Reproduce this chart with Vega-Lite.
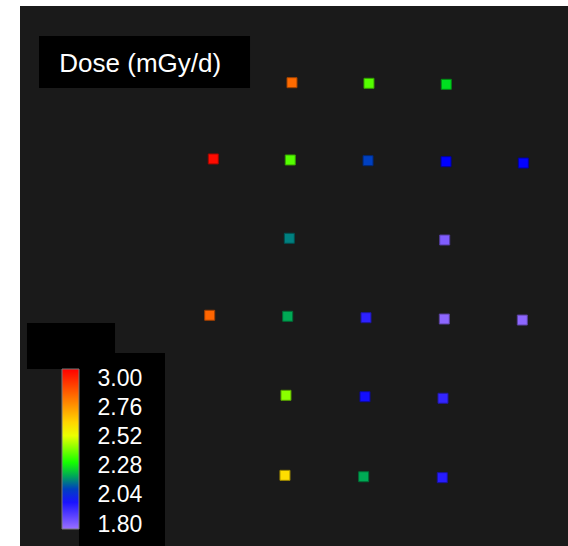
{
  "$schema": "https://vega.github.io/schema/vega-lite/v6.json",
  "width": 548,
  "height": 540,
  "autosize": {"type": "none"},
  "padding": {"left": 20, "top": 6, "right": 0, "bottom": 0},
  "background": "white",
  "config": {
    "view": {"fill": "#1a1a1a", "stroke": null},
    "legend": {"padding": 0, "offset": 0, "labelColor": "white", "labelFont": "Liberation Sans", "labelFontSize": 23, "title": null}
  },
  "datasets": {
    "panels": [
      {"name": "title box", "x": 0.244, "x2": 2.949, "y": 6.538, "y2": 5.872},
      {"name": "colorbar title box", "x": 0.0897, "x2": 1.218, "y": 2.859, "y2": 2.269},
      {"name": "colorbar label box", "x": 0.756, "x2": 1.859, "y": 2.474, "y2": 0}
    ],
    "titles": [
      {"label": "Dose (mGy/d)", "x": 0.504, "y": 6.081}
    ],
    "doses": [
      {"x": 3.487, "y": 5.940, "dose": 2.80},
      {"x": 4.474, "y": 5.932, "dose": 2.36},
      {"x": 5.465, "y": 5.919, "dose": 2.25},
      {"x": 2.478, "y": 4.962, "dose": 2.98},
      {"x": 3.465, "y": 4.949, "dose": 2.36},
      {"x": 4.462, "y": 4.940, "dose": 2.10},
      {"x": 5.462, "y": 4.927, "dose": 2.04},
      {"x": 6.453, "y": 4.910, "dose": 2.035},
      {"x": 3.453, "y": 3.945, "dose": 2.16},
      {"x": 5.445, "y": 3.923, "dose": 1.84},
      {"x": 2.432, "y": 2.958, "dose": 2.81},
      {"x": 3.432, "y": 2.945, "dose": 2.20},
      {"x": 4.436, "y": 2.927, "dose": 1.97},
      {"x": 5.440, "y": 2.910, "dose": 1.82},
      {"x": 6.440, "y": 2.897, "dose": 1.82},
      {"x": 3.410, "y": 1.932, "dose": 2.41},
      {"x": 4.423, "y": 1.914, "dose": 2.01},
      {"x": 5.423, "y": 1.894, "dose": 1.96},
      {"x": 3.397, "y": 0.906, "dose": 2.585},
      {"x": 4.406, "y": 0.888, "dose": 2.20},
      {"x": 5.414, "y": 0.876, "dose": 1.98}
    ]
  },
  "layer": [
    {
      "data": {"name": "panels"},
      "mark": {"type": "rect", "fill": "black", "stroke": null},
      "encoding": {
        "x": {"field": "x", "type": "quantitative", "scale": {"domain": [0, 7.0256], "nice": false, "zero": false}, "axis": null},
        "x2": {"field": "x2"},
        "y": {"field": "y", "type": "quantitative", "scale": {"domain": [0, 6.9231], "nice": false, "zero": false}, "axis": null},
        "y2": {"field": "y2"}
      }
    },
    {
      "data": {"name": "titles"},
      "mark": {"type": "text", "align": "left", "baseline": "alphabetic", "font": "Liberation Sans", "fontSize": 26, "fill": "white"},
      "encoding": {
        "x": {"field": "x", "type": "quantitative"},
        "y": {"field": "y", "type": "quantitative"},
        "text": {"field": "label"}
      }
    },
    {
      "data": {"name": "doses"},
      "mark": {"type": "square", "size": 100, "strokeWidth": 1, "opacity": 1, "fillOpacity": 1, "strokeOpacity": 1},
      "encoding": {
        "x": {"field": "x", "type": "quantitative"},
        "y": {"field": "y", "type": "quantitative"},
        "fill": {
          "field": "dose", "type": "quantitative",
          "scale": {"domain": [1.8, 2.04, 2.16, 2.28, 2.52, 2.76, 3.0], "range": ["#9a70ff", "#0000ff", "#008080", "#00ff00", "#ffff00", "#ff8000", "#ff0000"], "interpolate": "rgb", "nice": false, "zero": false},
          "legend": {"orient": "none", "legendX": 42, "legendY": 363, "direction": "vertical", "gradientLength": 160, "gradientThickness": 17, "gradientStrokeColor": "#777777", "gradientStrokeWidth": 1, "labelExpr": "''", "labelOpacity": 0, "labelOverlap": false}
        },
        "stroke": {
          "field": "dose", "type": "quantitative",
          "scale": {"domain": [1.7999, 2.04, 2.16, 2.28, 2.52, 2.76, 3.0001], "range": ["#62479f", "#0000a0", "#005050", "#00a000", "#a0a000", "#a05000", "#a00000"], "interpolate": "rgb", "nice": false, "zero": false},
          "legend": {"orient": "none", "legendX": 72.5, "legendY": 373, "direction": "vertical", "gradientLength": 145.6, "gradientThickness": 1, "gradientOpacity": 0, "gradientStrokeWidth": 0, "values": [1.8, 2.04, 2.28, 2.52, 2.76, 3.0], "format": ".2f", "labelOffset": 4, "labelOverlap": false}
        }
      }
    }
  ]
}
